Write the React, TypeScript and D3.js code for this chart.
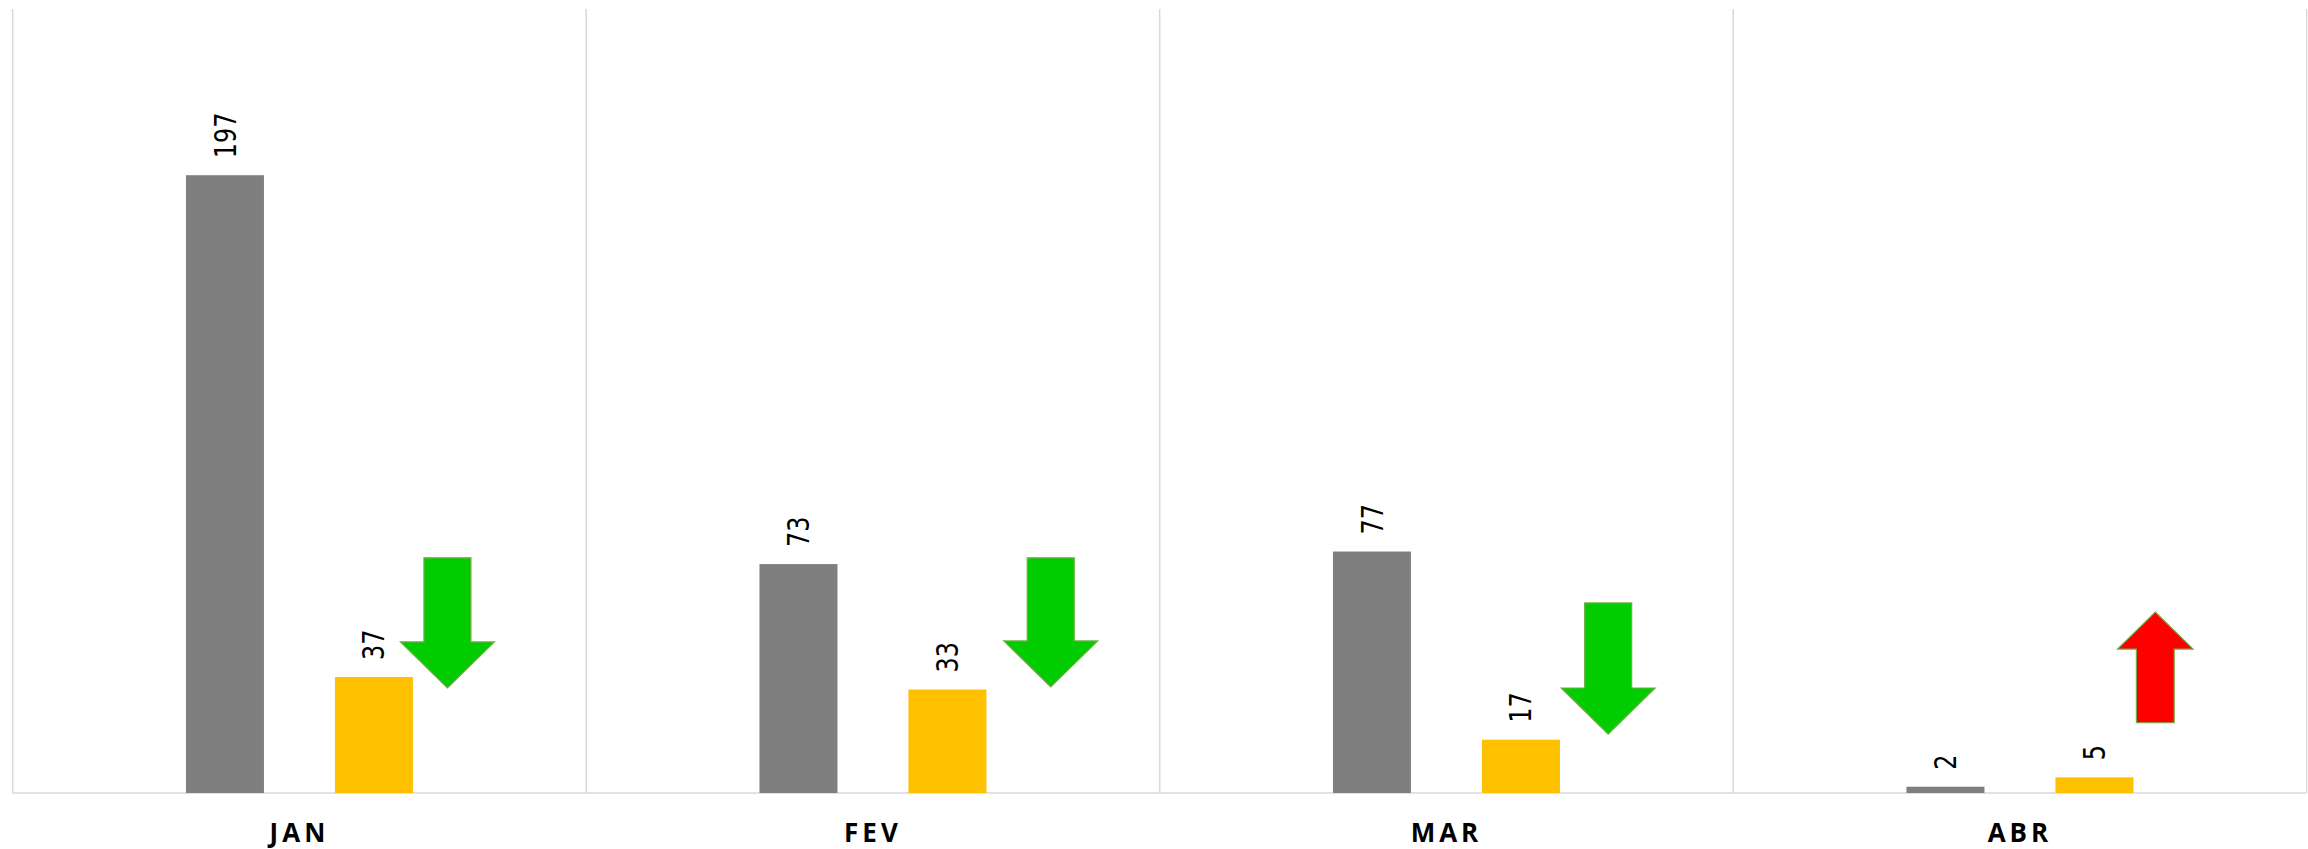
import React from "react";
import * as d3 from "d3";

const categories = ["JAN", "FEV", "MAR", "ABR"];
const seriesNames = ["anterior", "atual"];
const seriesPrev = [197, 73, 77, 2];
const seriesCurr = [37, 33, 17, 5];
const yMax = 250;

// arrow annotations: placement within the category band (fraction), value extents
const arrowPos = [0.758, 0.81, 0.782, 0.736];
const arrowTop = [75, 75, 60.6, 57.7];
const arrowBottom = [33.5, 33.8, 18.8, 22.4];
const arrowWidth = [94, 94, 94, 75.6];

const W = 2308;
const H = 849;
const left = 12.7;
const right = 2306.7;
const top = 9;
const bottom = 793;

export default function App() {
  const x = d3.scaleBand<string>().domain(categories).range([left, right]).padding(0);
  const bw = x.bandwidth();
  const inner = d3
    .scaleBand<string>()
    .domain(seriesNames)
    .range([0, bw])
    .paddingInner(0.4765)
    .paddingOuter(1.163);
  const y = d3.scaleLinear().domain([0, yMax]).range([bottom, top]);
  const colors = ["#7F7F7F", "#FFC000"];
  const values = [seriesPrev, seriesCurr];

  const arrowPath = (cx: number, yTop: number, yBot: number, w: number, down: boolean) => {
    const p = d3.path();
    const hw = w / 2;
    const sw = w / 4;
    const hh = w * 0.49;
    if (down) {
      p.moveTo(cx - sw, yTop);
      p.lineTo(cx + sw, yTop);
      p.lineTo(cx + sw, yBot - hh);
      p.lineTo(cx + hw, yBot - hh);
      p.lineTo(cx, yBot);
      p.lineTo(cx - hw, yBot - hh);
      p.lineTo(cx - sw, yBot - hh);
    } else {
      p.moveTo(cx, yTop);
      p.lineTo(cx + hw, yTop + hh);
      p.lineTo(cx + sw, yTop + hh);
      p.lineTo(cx + sw, yBot);
      p.lineTo(cx - sw, yBot);
      p.lineTo(cx - sw, yTop + hh);
      p.lineTo(cx - hw, yTop + hh);
    }
    p.closePath();
    return p.toString();
  };

  return (
    <svg
      width={W}
      height={H}
      style={{ position: "absolute", left: 0, top: 0, background: "#fff", display: "block" }}
    >
      <rect x={0} y={0} width={W} height={H} fill="#fff" />
      {[...categories.map((c) => x(c) as number), right].map((xx, i) => (
        <line key={"sep" + i} x1={xx} x2={xx} y1={top} y2={bottom} stroke="#D9D9D9" strokeWidth={1.5} />
      ))}
      <line x1={left} x2={right} y1={bottom} y2={bottom} stroke="#D9D9D9" strokeWidth={1.5} />
      {categories.map((c, ci) => (
        <g key={c}>
          {seriesNames.map((s, si) => {
            const v = values[si][ci];
            const bx = (x(c) as number) + (inner(s) as number);
            const by = y(v);
            const cx = bx + inner.bandwidth() / 2;
            return (
              <g key={s}>
                <rect x={bx} y={by} width={inner.bandwidth()} height={bottom - by} fill={colors[si]} />
                <text
                  transform={`translate(${cx},${by - 17}) rotate(-90) scale(1,1.22)`}
                  dy="0.36em"
                  fontFamily="'DejaVu Sans', sans-serif"
                  fontSize={24}
                  fill="#000"
                >
                  {v}
                </text>
              </g>
            );
          })}
          <text
            x={(x(c) as number) + bw / 2}
            y={842}
            textAnchor="middle"
            fontFamily="'Open Sans', sans-serif"
            fontWeight={700}
            fontSize={26}
            letterSpacing={4}
            fill="#000"
          >
            {c}
          </text>
          <path
            d={arrowPath(
              (x(c) as number) + bw * arrowPos[ci],
              y(arrowTop[ci]),
              y(arrowBottom[ci]),
              arrowWidth[ci],
              seriesCurr[ci] < seriesPrev[ci]
            )}
            fill={seriesCurr[ci] < seriesPrev[ci] ? "#00CC00" : "#FF0000"}
            stroke="#70AD47"
            strokeWidth={1.2}
          />
        </g>
      ))}
    </svg>
  );
}
